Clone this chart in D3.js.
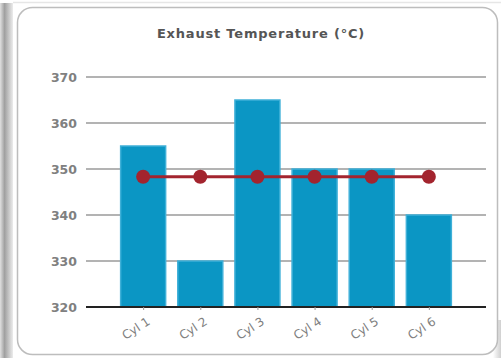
<!DOCTYPE html>
<html><head><meta charset="utf-8">
<script src="https://cdn.jsdelivr.net/npm/d3@7"></script>
<style>
html,body{margin:0;padding:0;background:#fff;}
svg{display:block;font-family:"DejaVu Sans",sans-serif;}
</style></head>
<body>
<svg id="c" width="501" height="358"></svg>
<script>
const categories = ["Cyl 1","Cyl 2","Cyl 3","Cyl 4","Cyl 5","Cyl 6"];
const temps = [355, 330, 365, 350, 350, 340];
const average = [348.33, 348.33, 348.33, 348.33, 348.33, 348.33];
const yTicks = [320, 330, 340, 350, 360, 370];
const title = "Exhaust Temperature (°C)";

(function(){
const svg = d3.select("#c");
const defs = svg.append("defs");
const g1 = defs.append("linearGradient").attr("id","shadeL").attr("x1",0).attr("x2",1);
g1.append("stop").attr("offset","0").attr("stop-color","#e0e0e0");
g1.append("stop").attr("offset","0.35").attr("stop-color","#a0a0a0");
g1.append("stop").attr("offset","1").attr("stop-color","#ececec");
const g2 = defs.append("linearGradient").attr("id","shadeR").attr("x1",0).attr("x2",1);
g2.append("stop").attr("offset","0").attr("stop-color","#ffffff");
g2.append("stop").attr("offset","1").attr("stop-color","#d0d0d0");

svg.append("rect").attr("x",0).attr("y",3).attr("width",13).attr("height",355).attr("fill","url(#shadeL)");
svg.append("line").attr("x1",13).attr("x2",501).attr("y1",2.5).attr("y2",2.5).attr("stroke","#e6e6e6").attr("stroke-width",1.5);
svg.append("rect").attr("x",493).attr("y",320).attr("width",8).attr("height",38).attr("fill","url(#shadeR)");
svg.append("rect").attr("x",17.5).attr("y",7.5).attr("width",480).attr("height",347)
  .attr("rx",15).attr("fill","#fff").attr("stroke","#bdbdbd").attr("stroke-width",1.5);

const pL = 86, pR = 486, pT = 77, pB = 307;
const x = d3.scalePoint().domain(categories).range([pL, pR]).padding(1);
const y = d3.scaleLinear().domain([320, 370]).range([pB, pT]);
const barW = 45;

svg.append("text").attr("x",261).attr("y",38).attr("text-anchor","middle")
  .attr("font-size",13).attr("letter-spacing",0.8).attr("font-weight","bold").attr("fill","#555").text(title);

svg.append("g").selectAll("line").data(yTicks.filter(d=>d!==320)).join("line")
  .attr("x1",pL).attr("x2",pR).attr("y1",d=>y(d)).attr("y2",d=>y(d))
  .attr("stroke","#9a9a9a").attr("stroke-width",1.5);

const yAxis = d3.axisLeft(y).tickValues(yTicks).tickSize(0).tickPadding(9);
const ya = svg.append("g").attr("transform",`translate(${pL},0)`).call(yAxis);
ya.select(".domain").remove();
ya.selectAll("text").attr("font-size",12.5).attr("font-weight","bold").attr("fill","#808080")
  .attr("font-family","'DejaVu Sans',sans-serif");

svg.append("g").selectAll("rect").data(temps).join("rect")
  .attr("x",(d,i)=>x(categories[i])-barW/2)
  .attr("y",d=>y(d))
  .attr("width",barW)
  .attr("height",d=>y(320)-y(d))
  .attr("fill","#0b96c4").attr("stroke","#3fb0d8").attr("stroke-width",1.5);

svg.append("line").attr("x1",pL).attr("x2",pR).attr("y1",y(320)).attr("y2",y(320))
  .attr("stroke","#222").attr("stroke-width",2);

const xAxis = d3.axisBottom(x).tickSize(3).tickPadding(0);
const xa = svg.append("g").attr("transform",`translate(0,${y(320)})`).call(xAxis);
xa.select(".domain").remove();
xa.selectAll("line").attr("stroke","#999");
xa.selectAll("text").attr("font-size",12).attr("fill","#808080")
  .attr("font-family","'DejaVu Sans',sans-serif")
  .attr("text-anchor","end").attr("y",0).attr("dy","0.35em")
  .attr("transform","translate(5,13) rotate(-33)");

const line = d3.line().x((d,i)=>x(categories[i])).y(d=>y(d));
svg.append("path").datum(average).attr("d",line).attr("fill","none")
  .attr("stroke","#a3242e").attr("stroke-width",3);
svg.append("g").selectAll("circle").data(average).join("circle")
  .attr("cx",(d,i)=>x(categories[i])).attr("cy",d=>y(d)).attr("r",7)
  .attr("fill","#a3242e");
})();
</script>
</body></html>
